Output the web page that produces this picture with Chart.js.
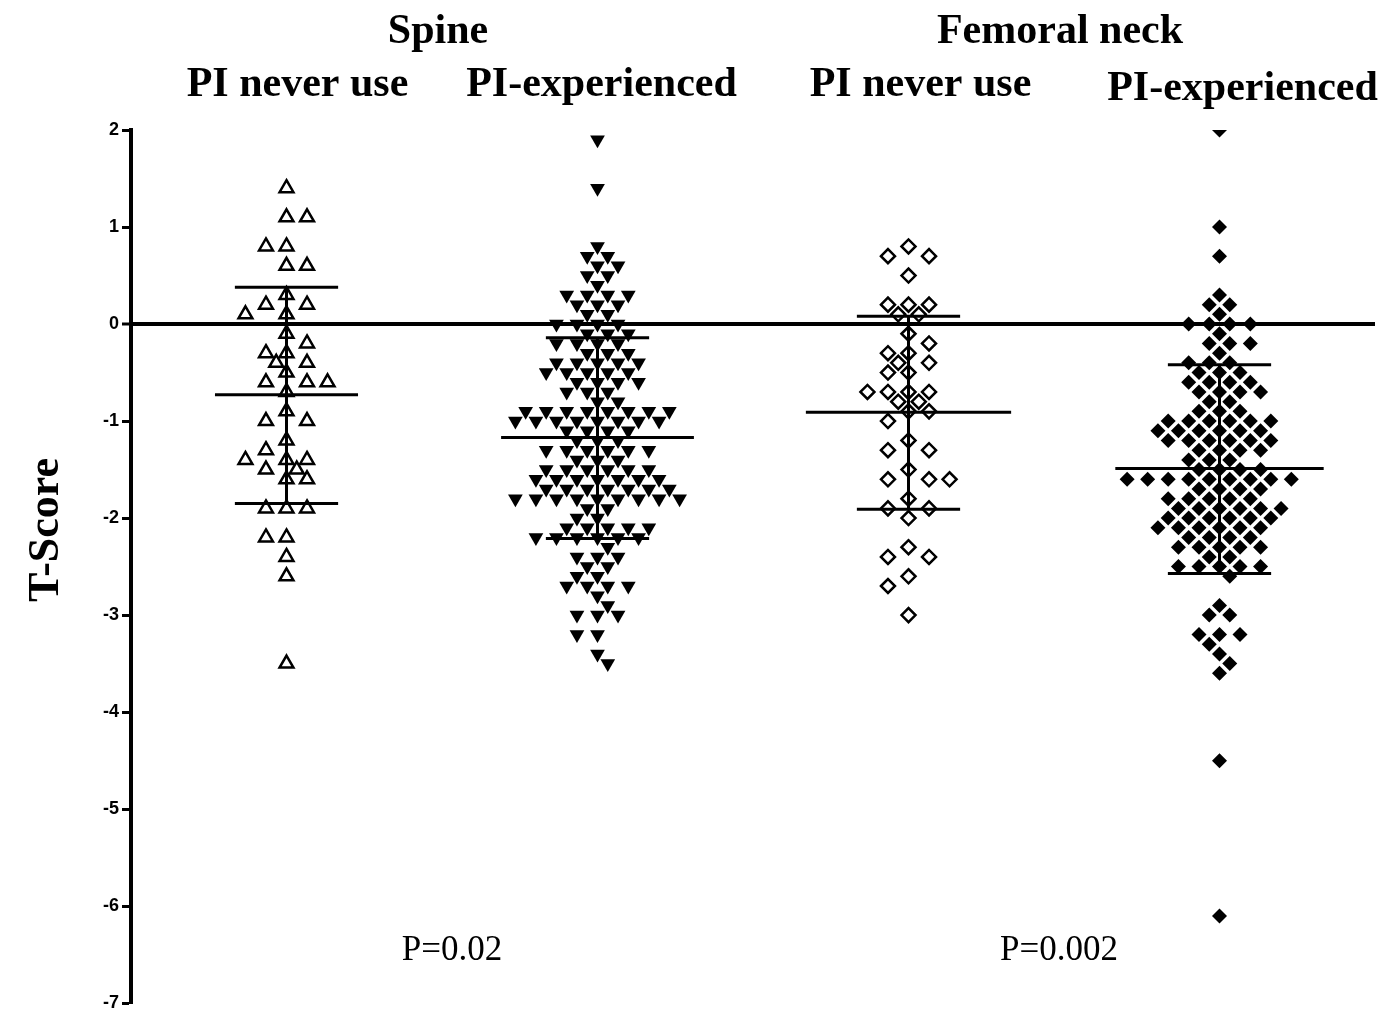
<!DOCTYPE html>
<html>
<head>
<meta charset="utf-8">
<title>T-Score by PI exposure</title>
<script src="https://cdn.jsdelivr.net/npm/chart.js@4.4.1/dist/chart.umd.min.js"></script>
<style>
  body { margin: 0; background: #fff; }
  canvas { display: block; }
</style>
</head>
<body>
<canvas id="tscoreChart" width="1393" height="1017"></canvas>
<script>
// Group names, site headers and p-values
const groupLabels = ["PI never use", "PI-experienced", "PI never use", "PI-experienced"];
const siteLabels = ["Spine", "Femoral neck"];
const pValues = ["P=0.02", "P=0.002"];
const yTicks = [2, 1, 0, -1, -2, -3, -4, -5, -6, -7];

// T-scores, one array per group
const spineNever = [1.4, 1.1, 1.1, 0.8, 0.8, 0.6, 0.6, 0.3, 0.2, 0.2, 0.1, 0.1, -0.1, -0.2,
  -0.3, -0.3, -0.4, -0.4, -0.5, -0.6, -0.6, -0.6, -0.7, -0.9, -1.0, -1.0, -1.2, -1.3,
  -1.4, -1.4, -1.4, -1.5, -1.5, -1.6, -1.6, -1.9, -1.9, -1.9, -2.2, -2.2, -2.4, -2.6, -3.5];

const spineExp = [1.9, 1.4, 0.8, 0.7, 0.7, 0.6, 0.6, 0.5, 0.5, 0.4, 0.3, 0.3, 0.3, 0.3,
  0.2, 0.2, 0.2, 0.1, 0.1, 0.0, 0.0, 0.0, 0.0, -0.1, -0.1, -0.1, -0.2, -0.2, -0.2, -0.2,
  -0.3, -0.3, -0.3, -0.4, -0.4, -0.4, -0.4, -0.4, -0.5, -0.5, -0.5, -0.5, -0.5,
  -0.6, -0.6, -0.6, -0.6, -0.7, -0.7, -0.7, -0.8, -0.8,
  -0.9, -0.9, -0.9, -0.9, -0.9, -0.9, -0.9, -0.9, -1.0, -1.0, -1.0, -1.0, -1.0, -1.0, -1.0, -1.0,
  -1.1, -1.1, -1.1, -1.1, -1.2, -1.2, -1.2, -1.3, -1.3, -1.3, -1.3, -1.3, -1.3,
  -1.4, -1.4, -1.4, -1.5, -1.5, -1.5, -1.5, -1.5, -1.5,
  -1.6, -1.6, -1.6, -1.6, -1.6, -1.6, -1.6, -1.7, -1.7, -1.7, -1.7, -1.7, -1.7, -1.7,
  -1.8, -1.8, -1.8, -1.8, -1.8, -1.8, -1.8, -1.8, -1.8, -1.9, -1.9, -2.0, -2.0,
  -2.1, -2.1, -2.1, -2.1, -2.1, -2.2, -2.2, -2.2, -2.2, -2.2, -2.2, -2.3,
  -2.4, -2.4, -2.4, -2.5, -2.5, -2.6, -2.6, -2.7, -2.7, -2.7, -2.7, -2.8, -2.9,
  -3.0, -3.0, -3.0, -3.2, -3.2, -3.4, -3.5];

const femNever = [0.8, 0.7, 0.7, 0.5, 0.2, 0.2, 0.2, 0.1, 0.1, -0.1, -0.2, -0.3, -0.3,
  -0.4, -0.4, -0.5, -0.5, -0.7, -0.7, -0.7, -0.7, -0.8, -0.8, -0.9, -0.9, -1.0, -1.2,
  -1.3, -1.3, -1.5, -1.6, -1.6, -1.6, -1.8, -1.9, -1.9, -2.0, -2.3, -2.4, -2.4, -2.6, -2.7, -3.0];

const femExp = [2.0, 1.0, 0.7, 0.3, 0.2, 0.2, 0.1, 0.0, 0.0, 0.0, 0.0, -0.1, -0.2, -0.2, -0.2,
  -0.3, -0.4, -0.4, -0.4, -0.5, -0.5, -0.5, -0.6, -0.6, -0.6, -0.6, -0.7, -0.7, -0.7, -0.7,
  -0.8, -0.8, -0.9, -0.9, -0.9, -1.0, -1.0, -1.0, -1.0, -1.0, -1.0,
  -1.1, -1.1, -1.1, -1.1, -1.1, -1.1, -1.2, -1.2, -1.2, -1.2, -1.2, -1.2,
  -1.3, -1.3, -1.3, -1.3, -1.4, -1.4, -1.4, -1.5, -1.5, -1.5, -1.5,
  -1.6, -1.6, -1.6, -1.6, -1.6, -1.6, -1.6, -1.6, -1.6, -1.7, -1.7, -1.7, -1.7,
  -1.8, -1.8, -1.8, -1.8, -1.8, -1.9, -1.9, -1.9, -1.9, -1.9, -1.9,
  -2.0, -2.0, -2.0, -2.0, -2.0, -2.0, -2.1, -2.1, -2.1, -2.1, -2.1, -2.1,
  -2.2, -2.2, -2.2, -2.2, -2.3, -2.3, -2.3, -2.3, -2.3, -2.4, -2.4,
  -2.5, -2.5, -2.5, -2.5, -2.5, -2.6, -2.9, -3.0, -3.0, -3.2, -3.2, -3.2,
  -3.3, -3.4, -3.5, -3.6, -4.5, -6.1];

// mean and mean +/- SD as drawn
const means = [-0.73, -1.17, -0.91, -1.49];
const sdUpper = [0.38, -0.14, 0.08, -0.42];
const sdLower = [-1.85, -2.21, -1.91, -2.57];

const allGroups = [spineNever, spineExp, femNever, femExp];

// styles
const markers = [
  { style: "triangle", rotation: 0, radius: 8, fill: "#fff", border: 2.5 },
  { style: "triangle", rotation: 180, radius: 8.5, fill: "#000", border: 0 },
  { style: "rectRot", rotation: 0, radius: 7, fill: "#fff", border: 2.5 },
  { style: "rectRot", rotation: 0, radius: 7.5, fill: "#000", border: 0 }
];
const meanHalfWidth = [0.23, 0.31, 0.33, 0.335];
const capHalfWidth = 0.166;
const halfStep = 0.033; // horizontal spacing unit of the dot swarm
const labelShift = [11, 4, 12, 23];

// simple beeswarm: highest values first, nearest free slot to the centre.
// small groups keep to whole columns where they can.
function slotOrder(wholeFirst) {
  const order = [];
  for (let k = 0; k <= 24; k++) {
    order.push({ k: k, cost: k + (wholeFirst && k % 2 ? 1.5 : 0) });
  }
  return order.sort((a, b) => a.cost - b.cost);
}

function swarm(values) {
  const slots = slotOrder(values.length < 80);
  const placed = [];
  const sorted = values.slice().sort((a, b) => b - a);
  let flip = 1;
  sorted.forEach(v => {
    for (const slot of slots) {
      const k = slot.k;
      const cands = k === 0 ? [0] : [k * flip, -k * flip];
      const free = cands.find(c => !placed.some(p => {
        const dk = Math.abs(p.k - c), dv = Math.abs(p.v - v);
        return (dk < 1 && dv < 0.15) || (dk < 2 && dv < 0.05);
      }));
      if (free !== undefined) {
        placed.push({ k: free, v: v });
        if (k) flip = -flip;
        break;
      }
    }
  });
  return placed;
}

const datasets = [];

// error bars first so they are drawn on top of the dots
allGroups.forEach((vals, i) => {
  const segs = [
    [{ x: i - meanHalfWidth[i], y: means[i] }, { x: i + meanHalfWidth[i], y: means[i] }],
    [{ x: i - capHalfWidth, y: sdUpper[i] }, { x: i + capHalfWidth, y: sdUpper[i] }],
    [{ x: i - capHalfWidth, y: sdLower[i] }, { x: i + capHalfWidth, y: sdLower[i] }],
    [{ x: i, y: sdLower[i] }, { x: i, y: sdUpper[i] }]
  ];
  segs.forEach(s => datasets.push({
    type: "line",
    data: s,
    borderColor: "#000",
    borderWidth: 3,
    pointRadius: 0,
    fill: false
  }));
});

allGroups.forEach((vals, i) => {
  const m = markers[i];
  datasets.push({
    label: groupLabels[i],
    data: swarm(vals).map(p => ({ x: i + p.k * halfStep, y: p.v })),
    pointStyle: m.style,
    rotation: m.rotation,
    pointRadius: m.radius,
    backgroundColor: m.fill,
    borderColor: "#000",
    borderWidth: m.border,
    clip: 0
  });
});

const textPlugin = {
  id: "textPlugin",
  afterDraw(chart) {
    const { ctx } = chart;
    const x = chart.scales.x;
    ctx.save();
    ctx.fillStyle = "#000";
    ctx.textAlign = "center";
    ctx.textBaseline = "alphabetic";

    ctx.font = "bold 42px 'Liberation Serif'";
    siteLabels.forEach((s, i) => {
      ctx.fillText(s, x.getPixelForValue(2 * i + 0.5) - 4, 43);
    });
    groupLabels.forEach((g, i) => {
      ctx.fillText(g, x.getPixelForValue(i) + labelShift[i], i === 3 ? 100 : 96);
    });

    ctx.font = "35px 'Liberation Serif'";
    pValues.forEach((p, i) => {
      ctx.fillText(p, x.getPixelForValue(2 * i + 0.5) + (i === 0 ? 10 : -5), 960);
    });

    ctx.translate(47, 530);
    ctx.rotate(-Math.PI / 2);
    ctx.textBaseline = "middle";
    ctx.font = "bold 44px 'Liberation Serif'";
    ctx.fillText("T-Score", 0, 0);
    ctx.restore();
  }
};

const ctx = document.getElementById("tscoreChart").getContext("2d");
new Chart(ctx, {
  type: "scatter",
  data: { datasets: datasets },
  options: {
    responsive: false,
    animation: false,
    layout: { padding: { top: 130, right: 18, bottom: 9, left: 0 } },
    plugins: {
      legend: { display: false },
      tooltip: { enabled: false }
    },
    scales: {
      x: { type: "linear", min: -0.5, max: 3.5, display: false },
      y: {
        min: -7,
        max: 2,
        afterBuildTicks: scale => { scale.ticks = yTicks.map(v => ({ value: v })); },
        afterFit: scale => { scale.width = 131; },
        ticks: {
          color: "#000",
          padding: 3,
          font: { family: "'Liberation Sans', Arial", size: 18, weight: "bold" }
        },
        grid: {
          color: c => (c.tick && c.tick.value === 0 ? "#000" : "rgba(0,0,0,0)"),
          lineWidth: c => (c.tick && c.tick.value === 0 ? 4 : 1),
          tickColor: "#000",
          tickLength: 9,
          tickWidth: 3
        },
        border: { display: true, color: "#000", width: 4 }
      }
    }
  },
  plugins: [textPlugin]
});
</script>
</body>
</html>
